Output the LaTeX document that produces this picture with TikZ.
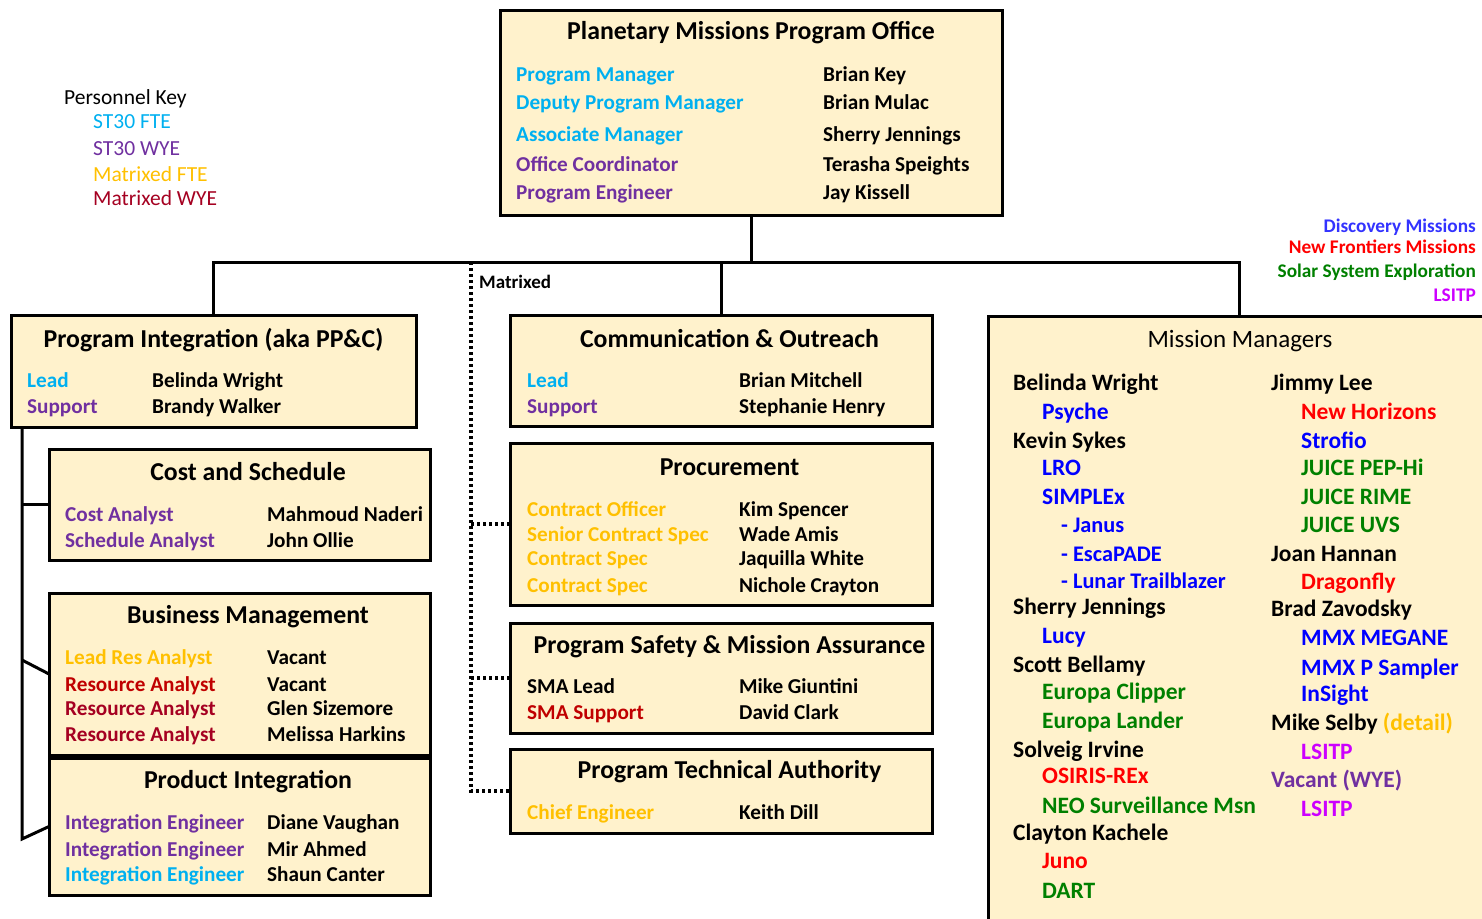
\documentclass[tikz,border=0pt]{standalone}
\usepackage{fontspec}
\setmainfont{Carlito}
\definecolor{boxfill}{HTML}{FFF2CC}
\definecolor{cy}{HTML}{00B0F0}
\definecolor{pu}{HTML}{7030A0}
\definecolor{go}{HTML}{FFC000}
\definecolor{dr}{HTML}{C00000}
\definecolor{cr}{HTML}{A50021}
\definecolor{bl}{HTML}{0000FF}
\definecolor{lb}{HTML}{3333FF}
\definecolor{rd}{HTML}{FF0000}
\definecolor{gr}{HTML}{008000}
\definecolor{mg}{HTML}{CC00FF}
\tikzset{
 box/.style={draw=black, line width=3pt, fill=boxfill, rectangle, inner sep=0pt, outer sep=0pt, anchor=north west},
 ttl/.style={font=\fontsize{25.8}{30}\selectfont\bfseries, anchor=base, inner sep=0pt},
 rw/.style={font=\fontsize{21.2}{25}\selectfont\bfseries, anchor=base west, inner sep=0pt},
 mmr/.style={font=\fontsize{23.5}{28}\selectfont\bfseries, anchor=base west, inner sep=0pt},
 mms/.style={font=\fontsize{22.3}{27}\selectfont\bfseries, anchor=base west, inner sep=0pt},
 mmt/.style={font=\fontsize{25}{30}\selectfont, anchor=base, inner sep=0pt},
 leg/.style={font=\fontsize{19.3}{23}\selectfont\bfseries, anchor=base east, inner sep=0pt},
 key/.style={font=\fontsize{21.5}{25}\selectfont, anchor=base west, inner sep=0pt},
 conn/.style={draw=black, line width=3pt, line join=miter},
 dotline/.style={draw=black, line width=3.2pt, dash pattern=on 3pt off 3pt},
}
\begin{document}
\begin{tikzpicture}[x=1pt,y=-1pt]
\useasboundingbox (0,0) rectangle (1482,918);
\fill[white] (0,0) rectangle (1482,918);

% coordinates for connectors
\coordinate (bus) at (751,262);
\coordinate (dtop) at (471,262);
\coordinate (dbot) at (471,791);
\coordinate (lvt) at (22,427);
\coordinate (lvb) at (22,839);
\coordinate (bmj) at (22,660);

% boxes
\node[box, minimum width=502pt, minimum height=205pt] (pmpo) at (500,10) {};
\node[box, minimum width=405pt, minimum height=112pt] (pi) at (11,315) {};
\node[box, minimum width=422pt, minimum height=111pt] (co) at (510,315) {};
\node[box, minimum width=502pt, minimum height=610pt] (mm) at (988,316) {};
\node[box, minimum width=381pt, minimum height=111pt] (cs) at (49,449) {};
\node[box, minimum width=381pt, minimum height=162pt] (bm) at (49,593) {};
\node[box, minimum width=381pt, minimum height=137pt] (pint) at (49,758) {};
\node[box, minimum width=422pt, minimum height=162pt] (proc) at (510,443) {};
\node[box, minimum width=422pt, minimum height=110pt] (psma) at (510,623) {};
\node[box, minimum width=422pt, minimum height=84pt] (pta) at (510,749) {};

% solid connectors
\draw[conn] (pmpo.south) -- (pmpo.south |- bus);
\draw[conn] (pi.north) |- (bus) -| (mm.north);
\draw[conn] (co.north) -- (co.north |- bus);
\draw[conn] (lvt) -- (lvb) -- (pint.west);
\draw[conn] (cs.west -| lvt) -- (cs.west);
\draw[conn] (bmj) -- (bm.west);

% dotted matrixed connectors
\draw[dotline] (dtop) -- (dbot) -- (pta.west);
\draw[dotline] (proc.west -| dtop) -- (proc.west);
\draw[dotline] (psma.west -| dtop) -- (psma.west);
\node[font=\fontsize{19}{23}\selectfont\bfseries, anchor=base west, inner sep=0pt] (mtx) at (479,288) {Matrixed};

% Personnel key
\node[key] (k0) at (64,104) {Personnel Key};
\node[key, text=cy] (k1) at (93,128) {ST30 FTE};
\node[key, text=pu] (k2) at (93,155) {ST30 WYE};
\node[key, text=go] (k3) at (93,181) {Matrixed FTE};
\node[key, text=cr] (k4) at (93,205) {Matrixed WYE};

% mission legend
\node[leg, text=lb] (l1) at (1476,232) {Discovery Missions};
\node[leg, text=rd] (l2) at (1476,253) {New Frontiers Missions};
\node[leg, text=gr] (l3) at (1476,277) {Solar System Exploration};
\node[leg, text=mg] (l4) at (1476,301) {LSITP};

% PMPO
\node[ttl] (pmpoT) at (751,39) {Planetary Missions Program Office};
\node[rw, text=cy] (p1a) at (516,81) {Program Manager};
\node[rw] (p1b) at (823,81) {Brian Key};
\node[rw, text=cy] (p2a) at (516,109) {Deputy Program Manager};
\node[rw] (p2b) at (823,109) {Brian Mulac};
\node[rw, text=cy] (p3a) at (516,141) {Associate Manager};
\node[rw] (p3b) at (823,141) {Sherry Jennings};
\node[rw, text=pu] (p4a) at (516,171) {Office Coordinator};
\node[rw] (p4b) at (823,171) {Terasha Speights};
\node[rw, text=pu] (p5a) at (516,199) {Program Engineer};
\node[rw] (p5b) at (823,199) {Jay Kissell};

% Program Integration
\node[ttl] (piT) at (213.5,347) {Program Integration (aka PP\&C)};
\node[rw, text=cy] (pi1a) at (27,387) {Lead};
\node[rw] (pi1b) at (152,387) {Belinda Wright};
\node[rw, text=pu] (pi2a) at (27,413) {Support};
\node[rw] (pi2b) at (152,413) {Brandy Walker};

% Cost and Schedule
\node[ttl] (csT) at (248,480) {Cost and Schedule};
\node[rw, text=pu] (cs1a) at (65,521) {Cost Analyst};
\node[rw] (cs1b) at (267,521) {Mahmoud Naderi};
\node[rw, text=pu] (cs2a) at (65,547) {Schedule Analyst};
\node[rw] (cs2b) at (267,547) {John Ollie};

% Business Management
\node[ttl] (bmT) at (248,623) {Business Management};
\node[rw, text=go] (bm1a) at (65,664) {Lead Res Analyst};
\node[rw] (bm1b) at (267,664) {Vacant};
\node[rw, text=dr] (bm2a) at (65,691) {Resource Analyst};
\node[rw] (bm2b) at (267,691) {Vacant};
\node[rw, text=cr] (bm3a) at (65,715) {Resource Analyst};
\node[rw] (bm3b) at (267,715) {Glen Sizemore};
\node[rw, text=cr] (bm4a) at (65,741) {Resource Analyst};
\node[rw] (bm4b) at (267,741) {Melissa Harkins};

% Product Integration
\node[ttl] (pintT) at (248,788) {Product Integration};
\node[rw, text=pu] (pn1a) at (65,829) {Integration Engineer};
\node[rw] (pn1b) at (267,829) {Diane Vaughan};
\node[rw, text=pu] (pn2a) at (65,856) {Integration Engineer};
\node[rw] (pn2b) at (267,856) {Mir Ahmed};
\node[rw, text=cy] (pn3a) at (65,881) {Integration Engineer};
\node[rw] (pn3b) at (267,881) {Shaun Canter};

% Communication & Outreach
\node[ttl] (coT) at (729.5,347) {Communication \& Outreach};
\node[rw, text=cy] (co1a) at (527,387) {Lead};
\node[rw] (co1b) at (739,387) {Brian Mitchell};
\node[rw, text=pu] (co2a) at (527,413) {Support};
\node[rw] (co2b) at (739,413) {Stephanie Henry};

% Procurement
\node[ttl] (procT) at (729.5,475) {Procurement};
\node[rw, text=go] (pr1a) at (527,516) {Contract Officer};
\node[rw] (pr1b) at (739,516) {Kim Spencer};
\node[rw, text=go] (pr2a) at (527,541) {Senior Contract Spec};
\node[rw] (pr2b) at (739,541) {Wade Amis};
\node[rw, text=go] (pr3a) at (527,565) {Contract Spec};
\node[rw] (pr3b) at (739,565) {Jaquilla White};
\node[rw, text=go] (pr4a) at (527,592) {Contract Spec};
\node[rw] (pr4b) at (739,592) {Nichole Crayton};

% PSMA
\node[ttl] (psmaT) at (729.5,653) {Program Safety \& Mission Assurance};
\node[rw] (ps1a) at (527,693) {SMA Lead};
\node[rw] (ps1b) at (739,693) {Mike Giuntini};
\node[rw, text=dr] (ps2a) at (527,719) {SMA Support};
\node[rw] (ps2b) at (739,719) {David Clark};

% PTA
\node[ttl] (ptaT) at (729.5,778) {Program Technical Authority};
\node[rw, text=go] (pt1a) at (527,819) {Chief Engineer};
\node[rw] (pt1b) at (739,819) {Keith Dill};

% Mission Managers
\node[mmt] (mmT) at (1240,347) {Mission Managers};
\node[mmr] (m01) at (1013,390) {Belinda Wright};
\node[mmr, text=bl] (m02) at (1042,419) {Psyche};
\node[mmr] (m03) at (1013,448) {Kevin Sykes};
\node[mmr, text=bl] (m04) at (1042,475) {LRO};
\node[mmr, text=bl] (m05) at (1042,504) {SIMPLEx};
\node[mms, text=bl] (m06) at (1061,532) {- Janus};
\node[mms, text=bl] (m07) at (1061,561) {- EscaPADE};
\node[mms, text=bl] (m08) at (1061,588) {- Lunar Trailblazer};
\node[mmr] (m09) at (1013,614) {Sherry Jennings};
\node[mmr, text=bl] (m10) at (1042,643) {Lucy};
\node[mmr] (m11) at (1013,672) {Scott Bellamy};
\node[mmr, text=gr] (m12) at (1042,699) {Europa Clipper};
\node[mmr, text=gr] (m13) at (1042,728) {Europa Lander};
\node[mmr] (m14) at (1013,757) {Solveig Irvine};
\node[mmr, text=rd] (m15) at (1042,783) {OSIRIS-REx};
\node[mmr, text=gr] (m16) at (1042,813) {NEO Surveillance Msn};
\node[mmr] (m17) at (1013,840) {Clayton Kachele};
\node[mmr, text=rd] (m18) at (1042,868) {Juno};
\node[mmr, text=gr] (m19) at (1042,898) {DART};

\node[mmr] (n01) at (1271,390) {Jimmy Lee};
\node[mmr, text=rd] (n02) at (1301,419) {New Horizons};
\node[mmr, text=bl] (n03) at (1301,448) {Strofio};
\node[mmr, text=gr] (n04) at (1301,475) {JUICE PEP-Hi};
\node[mmr, text=gr] (n05) at (1301,504) {JUICE RIME};
\node[mmr, text=gr] (n06) at (1301,532) {JUICE UVS};
\node[mmr] (n07) at (1271,561) {Joan Hannan};
\node[mmr, text=rd] (n08) at (1301,589) {Dragonfly};
\node[mmr] (n09) at (1271,616) {Brad Zavodsky};
\node[mmr, text=bl] (n10) at (1301,645) {MMX MEGANE};
\node[mmr, text=bl] (n11) at (1301,675) {MMX P Sampler};
\node[mmr, text=bl] (n12) at (1301,701) {InSight};
\node[mmr] (n13) at (1271,730) {Mike Selby \textcolor{go}{(detail)}};
\node[mmr, text=mg] (n14) at (1301,759) {LSITP};
\node[mmr, text=pu] (n15) at (1271,787) {Vacant (WYE)};
\node[mmr, text=mg] (n16) at (1301,816) {LSITP};
\end{tikzpicture}
\end{document}
